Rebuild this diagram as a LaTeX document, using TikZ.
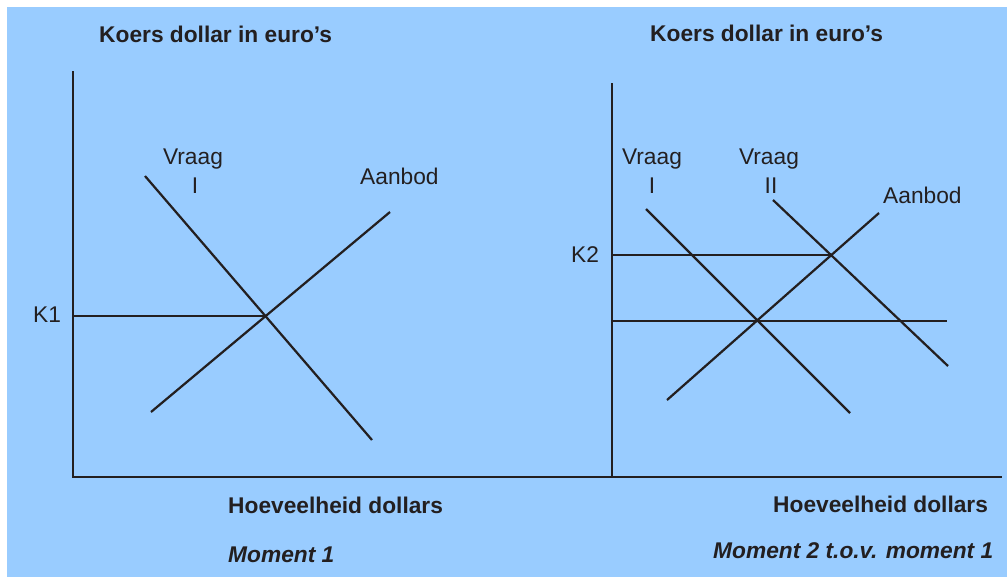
\documentclass[tikz,border=0pt]{standalone}
\usepackage{fontspec}
\setmainfont{Liberation Sans}
\definecolor{skyblue}{HTML}{99CCFF}
\definecolor{inkgray}{HTML}{231F20}
\tikzset{
  axisline/.style={inkgray, line width=2.2pt},
  curveline/.style={inkgray, line width=1.9pt},
  lbl/.style={inkgray, inner sep=0pt, anchor=base west, font=\fontsize{19.4}{22}\selectfont},
  lblc/.style={lbl, anchor=base},
  head/.style={lbl, font=\fontsize{19.4}{22}\selectfont\bfseries},
  moment/.style={lbl, font=\fontsize{19.4}{22}\selectfont\bfseries\itshape}
}

\begin{document}
\begin{tikzpicture}[x=0.03cm, y=-0.03cm]
  \useasboundingbox (0,0) rectangle (1007,577);
  \fill[skyblue] (7,7) rectangle (1007,577);

  % axes
  \coordinate (oL) at (73,477);
  \coordinate (yL) at (73,71);
  \coordinate (oR) at (612,477);
  \coordinate (yR) at (612,83);
  \coordinate (xEnd) at (1002,477);
  \draw[axisline] (yL) -- (oL) -- (xEnd);
  \draw[axisline] (yR) -- (oR);

  % moment 1
  \coordinate (vIa) at (145,176);
  \coordinate (vIb) at (372,440);
  \coordinate (aLa) at (151,412);
  \coordinate (aLb) at (390,212);
  \coordinate (k1) at (73,316);
  \coordinate (eq1) at (265,316);
  \draw[curveline] (vIa) -- (vIb);
  \draw[curveline] (aLa) -- (aLb);
  \draw[curveline] (k1) -- (eq1);

  % moment 2
  \coordinate (wIa) at (646,209);
  \coordinate (wIb) at (850,413);
  \coordinate (wIIa) at (773,200);
  \coordinate (wIIb) at (948,366);
  \coordinate (aRa) at (667,400);
  \coordinate (aRb) at (879,213);
  \coordinate (k2) at (612,255);
  \coordinate (eq2) at (832,255);
  \coordinate (k1r) at (612,321);
  \coordinate (k1end) at (947,321);
  \draw[curveline] (wIa) -- (wIb);
  \draw[curveline] (wIIa) -- (wIIb);
  \draw[curveline] (aRa) -- (aRb);
  \draw[curveline] (k2) -- (eq2);
  \draw[curveline] (k1r) -- (k1end);

  % labels
  \node[head] (titleL) at (99,42) {Koers dollar in euro’s};
  \node[head] (titleR) at (650,41) {Koers dollar in euro’s};
  \node[lblc] (vraagL) at (193,164) {Vraag};
  \node[lblc] (vraagLi) at (195,193) {I};
  \node[lbl] (aanbodL) at (360,184) {Aanbod};
  \node[lbl] (k1lbl) at (33,322) {K1};
  \node[lblc] (vraagR) at (652,164) {Vraag};
  \node[lblc] (vraagRi) at (652,193) {I};
  \node[lblc] (vraagRII) at (769,164) {Vraag};
  \node[lblc] (vraagRIIi) at (771,193) {II};
  \node[lbl] (aanbodR) at (883,203) {Aanbod};
  \node[lbl] (k2lbl) at (571,262) {K2};
  \node[head] (hoevL) at (228,513) {Hoeveelheid dollars};
  \node[head] (hoevR) at (773,512) {Hoeveelheid dollars};
  \node[moment] (mom1) at (228,562) {Moment 1};
  \node[moment] (mom2) at (713,558) {Moment 2 t.o.v. moment 1};
\end{tikzpicture}
\end{document}
